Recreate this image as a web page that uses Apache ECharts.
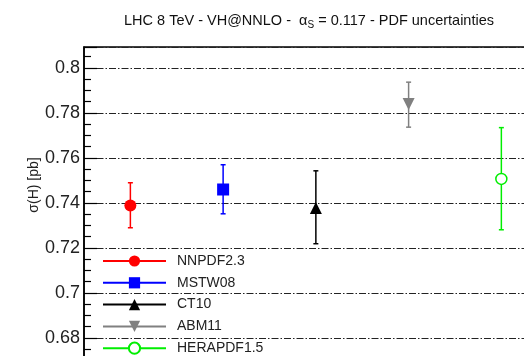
<!DOCTYPE html>
<html>
<head>
<meta charset="utf-8">
<script src="https://cdn.jsdelivr.net/npm/echarts@6/dist/echarts.min.js"></script>
<style>
  html, body { margin: 0; padding: 0; background: #fff; }
  #chart { width: 524px; height: 356px; }
</style>
</head>
<body>
<div id="chart"></div>
<script>
// VH cross section at NNLO, LHC 8 TeV, PDF uncertainty bands per PDF set
const pdfSets = ['NNPDF2.3', 'MSTW08', 'CT10', 'ABM11', 'HERAPDF1.5'];
const central = [0.7389, 0.7460, 0.7378, 0.7840, 0.7507];
const upper   = [0.7490, 0.7570, 0.7543, 0.7937, 0.7735];
const lower   = [0.7290, 0.7352, 0.7219, 0.7737, 0.7281];
const yTicks  = [0.66, 0.68, 0.70, 0.72, 0.74, 0.76, 0.78, 0.80];

const colors  = ['#ff0000', '#0000ff', '#000000', '#808080', '#00ee00'];
const symbols = ['circle', 'rect', 'triangle', 'triangle', 'circle'];
const rotations = [0, 0, 0, 180, 0];

const FONT = '"Liberation Sans", Arial, Helvetica, sans-serif';

const chart = echarts.init(document.getElementById('chart'), null, { renderer: 'canvas' });

const markerSeries = pdfSets.map((name, i) => ({
  name: name,
  type: 'line',
  z: 5,
  data: [[i, central[i]]],
  symbol: symbols[i],
  symbolSize: i === 4 ? 11 : 12,
  symbolRotate: rotations[i],
  showSymbol: true,
  color: colors[i],
  lineStyle: { color: colors[i], width: 2 },
  itemStyle: i === 4
    ? { color: '#ffffff', borderColor: colors[i], borderWidth: 1.5 }
    : { color: colors[i] },
  emphasis: { disabled: true },
  animation: false
}));

const errorSeries = {
  type: 'custom',
  z: 4,
  silent: true,
  animation: false,
  data: pdfSets.map((n, i) => [i, lower[i], upper[i]]),
  renderItem: function (params, api) {
    const i = api.value(0);
    const lo = api.coord([i, api.value(1)]);
    const hi = api.coord([i, api.value(2)]);
    const cap = 2.5;
    const style = { stroke: colors[i], lineWidth: 1.5 };
    return {
      type: 'group',
      children: [
        { type: 'line', shape: { x1: lo[0], y1: lo[1], x2: hi[0], y2: hi[1] }, style: style },
        { type: 'line', shape: { x1: hi[0] - cap, y1: hi[1], x2: hi[0] + cap, y2: hi[1] }, style: style },
        { type: 'line', shape: { x1: lo[0] - cap, y1: lo[1], x2: lo[0] + cap, y2: lo[1] }, style: style }
      ]
    };
  }
};

chart.setOption({
  backgroundColor: '#ffffff',
  animation: false,
  title: {
    text: 'LHC 8 TeV - VH@NNLO -  α{sub|S} = 0.117 - PDF uncertainties',
    left: 124,
    top: 12,
    padding: 0,
    textStyle: {
      fontFamily: FONT,
      fontSize: 14.5,
      fontWeight: 'normal',
      color: '#111',
      rich: {
        sub: { fontFamily: FONT, fontSize: 10, color: '#111', padding: [8, 0, 0, 0] }
      }
    }
  },
  legend: {
    orient: 'vertical',
    left: 102,
    top: 254,
    height: 140,
    padding: 0,
    itemWidth: 63,
    itemHeight: 14,
    itemGap: 7.8,
    data: pdfSets,
    textStyle: { fontFamily: FONT, fontSize: 14, color: '#222', padding: [0, 0, 0, 6] },
    selectedMode: false
  },
  grid: {
    left: 84,
    top: 47,
    width: 510.1,
    height: 336,
    outerBoundsMode: 'none',
    containLabel: false,
    show: true,
    borderColor: '#000',
    borderWidth: 1.5,
    backgroundColor: 'transparent'
  },
  xAxis: {
    type: 'value',
    min: -0.5,
    max: 5,
    show: false
  },
  yAxis: {
    type: 'value',
    min: yTicks[0],
    max: 0.80933,
    interval: 0.02,
    axisLine: { show: true, onZero: false, lineStyle: { color: '#000', width: 1.5 } },
    axisTick: { show: true, inside: true, length: 13, lineStyle: { color: '#000', width: 1.2 } },
    minorTick: { show: true, splitNumber: 4, length: 7, lineStyle: { color: '#000', width: 1.2 } },
    splitLine: { show: true, lineStyle: { color: '#222', width: 1, type: [7, 2, 1.5, 2] } },
    axisLabel: {
      show: true,
      margin: 4,
      fontFamily: FONT,
      fontSize: 18,
      color: '#222',
      showMaxLabel: false,
      formatter: function (v) {
        const t = yTicks.find(x => Math.abs(x - v) < 1e-6);
        return t === undefined ? '' : String(+t.toFixed(2));
      }
    }
  },
  graphic: [{
    type: 'text',
    x: 34,
    y: 185,
    rotation: Math.PI / 2,
    style: {
      text: 'σ(H) [pb]',
      font: '14px ' + FONT,
      fill: '#222',
      align: 'center',
      verticalAlign: 'middle'
    }
  }],
  series: [errorSeries].concat(markerSeries)
});
</script>
</body>
</html>
